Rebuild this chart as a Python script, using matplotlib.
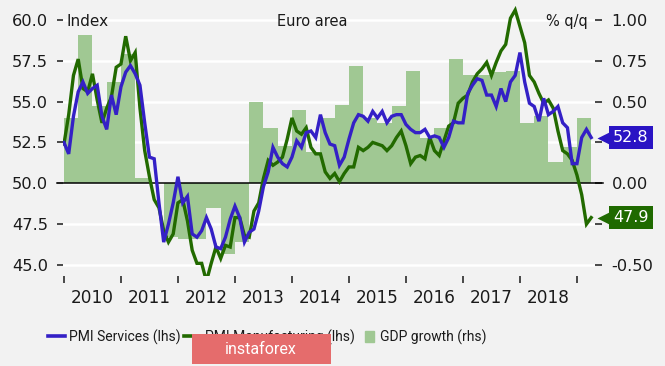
import numpy as np
import matplotlib
matplotlib.use("Agg")
import matplotlib.pyplot as plt
import matplotlib.transforms as mtransforms
from matplotlib.patches import Rectangle, Patch
from matplotlib.lines import Line2D
from matplotlib.legend_handler import HandlerPatch

# ---------------- data ----------------
years = ["2010", "2011", "2012", "2013", "2014", "2015", "2016", "2017", "2018"]

# monthly, Jan 2010 - Apr 2019
pmi_services = [
    52.5, 51.8, 54.1, 55.6, 56.2, 55.5, 55.8, 56.0, 54.1, 53.3, 55.4, 54.2,
    55.9, 56.8, 57.2, 56.7, 56.0, 53.7, 51.6, 51.5, 48.8, 46.4, 47.5, 48.8,
    50.4, 48.8, 49.2, 46.9, 46.7, 47.1, 47.9, 47.2, 46.1, 46.0, 46.7, 47.8,
    48.6, 47.9, 46.4, 47.0, 47.2, 48.3, 49.8, 50.7, 52.2, 51.6, 51.2, 51.0,
    51.6, 52.6, 52.2, 53.1, 53.2, 52.8, 54.2, 53.1, 52.4, 52.3, 51.1, 51.6,
    52.7, 53.7, 54.2, 54.1, 53.8, 54.4, 54.0, 54.4, 53.7, 54.1, 54.2, 54.2,
    53.6, 53.3, 53.1, 53.1, 53.3, 52.8, 52.9, 52.8, 52.2, 52.8, 53.8, 53.7,
    53.7, 55.5, 56.0, 56.4, 56.3, 55.4, 55.4, 54.7, 55.8, 55.0, 56.2, 56.6,
    58.0, 56.2, 54.9, 54.7, 53.8, 55.2, 54.2, 54.4, 54.7, 53.7, 53.4, 51.2,
    51.2, 52.8, 53.3, 52.8,
]
pmi_manufacturing = [
    52.4, 54.2, 56.6, 57.6, 55.8, 55.6, 56.7, 55.1, 53.7, 54.6, 55.3, 57.1,
    57.3, 59.0, 57.5, 58.0, 54.6, 52.0, 50.4, 49.0, 48.5, 47.1, 46.4, 46.9,
    48.8, 49.0, 47.7, 45.9, 45.1, 45.1, 44.0, 45.1, 46.1, 45.4, 46.2, 46.1,
    47.9, 47.9, 46.8, 46.7, 48.3, 48.8, 50.3, 51.4, 51.1, 51.3, 51.6, 52.7,
    54.0, 53.2, 53.0, 53.4, 52.2, 51.8, 51.8, 50.7, 50.3, 50.6, 50.1, 50.6,
    51.0, 51.0, 52.2, 52.0, 52.2, 52.5, 52.4, 52.3, 52.0, 52.3, 52.8, 53.2,
    52.3, 51.2, 51.6, 51.7, 51.5, 52.8, 52.0, 51.7, 52.6, 53.5, 53.7, 54.9,
    55.2, 55.4, 56.2, 56.7, 57.0, 57.4, 56.6, 57.4, 58.1, 58.5, 60.1, 60.6,
    59.6, 58.6, 56.6, 56.2, 55.5, 54.9, 55.1, 54.6, 53.2, 52.0, 51.8, 51.4,
    50.5, 49.3, 47.5, 47.9,
]
# quarterly, Q1 2010 - Q1 2019, % q/q
gdp_growth = [
    0.40, 0.91, 0.47, 0.62,
    0.79, 0.03, 0.00, -0.33,
    -0.34, -0.34, -0.15, -0.43,
    -0.36, 0.50, 0.34, 0.23,
    0.45, 0.19, 0.40, 0.48,
    0.72, 0.40, 0.37, 0.47,
    0.69, 0.28, 0.34, 0.76,
    0.66, 0.66, 0.68, 0.69,
    0.37, 0.41, 0.13, 0.22,
    0.40,
]
left_ticks = [45.0, 47.5, 50.0, 52.5, 55.0, 57.5, 60.0]
right_ticks = [-0.50, -0.25, 0.00, 0.25, 0.50, 0.75, 1.00]
# right labels hidden behind the last-value tags in the reference
right_labels = ["-0.50", "", "0.00", "", "0.50", "0.75", "1.00"]
legend_labels = ["PMI Services (lhs)", "PMI Manufacturing (lhs)", "GDP growth (rhs)"]

# ---------------- style ----------------
BG = "#f2f2f2"
BLUE = "#3420c6"
BLUE_BOX = "#2a14c4"
GREEN = "#226a00"
GREEN_BOX = "#1f6a00"
BAR = "#a0c893"
TXT = "#1a1a1a"

W, H = 665, 366
fig = plt.figure(figsize=(W / 100, H / 100), dpi=100, facecolor=BG)

ax_l, ax_r, ax_t, ax_b = 63, 595, 6, 275.6
ax = fig.add_axes([ax_l / W, 1 - ax_b / H, (ax_r - ax_l) / W, (ax_b - ax_t) / H])
ax2 = ax.twinx()
ax.set_zorder(2)
ax.patch.set_visible(False)
ax2.set_zorder(1)
ax2.patch.set_visible(False)

ylo, yhi = 44.35, 60.85
ax.set_ylim(ylo, yhi)
ax2.set_ylim((ylo - 50) / 10, (yhi - 50) / 10)

months = np.arange(len(pmi_services))
ax.set_xlim(-0.2, 111.8)

# GDP bars (quarterly)
q_start = np.arange(len(gdp_growth)) * 3
ax2.bar(q_start, gdp_growth, width=3, align="edge", color=BAR, edgecolor="none", zorder=1)
ax2.set_axisbelow(True)
ax2.grid(axis="y", color="white", lw=1.8)
ax2.axhline(0, xmin=-0.011, xmax=1.015, color="black", lw=1.1, clip_on=False, zorder=3)

# PMI lines
ax.plot(months, pmi_manufacturing, color=GREEN, lw=2.4, solid_joinstyle="miter")
ax.plot(months, pmi_services, color=BLUE, lw=2.4, solid_joinstyle="miter")

for a in (ax, ax2):
    for s in a.spines.values():
        s.set_visible(False)

# y ticks
ax.set_yticks(left_ticks)
ax.set_yticklabels([f"{v:.1f}" for v in left_ticks])
ax.tick_params(axis="y", left=True, length=4.3, width=1.1, pad=6.5,
               labelsize=11.7, colors=TXT)
ax2.set_yticks(right_ticks)
ax2.set_yticklabels(right_labels)
ax2.tick_params(axis="y", right=True, length=5, width=1.1, pad=7,
                labelsize=11.7, colors=TXT)

# x ticks
ax.set_xticks(np.arange(0, 109, 12))
ax.set_xticks(np.arange(6, 103, 12), minor=True)
ax.set_xticklabels([], minor=False)
ax.set_xticklabels(years, minor=True)
ax.tick_params(axis="x", which="major", length=5, width=1.1, direction="out",
               colors=TXT, labelbottom=False)
ax.tick_params(axis="x", which="minor", length=0, pad=10, labelsize=12.2,
               colors=TXT)

# header texts
ax.text(0.0075, 0.9407, "Index", transform=ax.transAxes, ha="left", va="center",
        fontsize=11, color=TXT)
ax.text(0.468, 0.9407, "Euro area", transform=ax.transAxes, ha="center", va="center",
        fontsize=10.5, color=TXT)
ax.text(0.987, 0.9407, "% q/q", transform=ax.transAxes, ha="right", va="center",
        fontsize=10.5, color=TXT)

# last-value tags
trans = mtransforms.blended_transform_factory(ax.transAxes, ax.transData)
for val, boxcol in ((pmi_services[-1], BLUE_BOX),
                    (pmi_manufacturing[-1], GREEN_BOX)):
    ax.plot([1.015], [val], marker="<", ms=9, color=boxcol, mec="none",
            transform=trans, clip_on=False)
    ax.text(1.0677, val, f"{val:.1f}", transform=trans, ha="center", va="center",
            color="white", fontsize=11.5, clip_on=False,
            bbox=dict(boxstyle="square,pad=0.25", fc=boxcol, ec="none"))

# legend
def small_square(legend, orig_handle, xdescent, ydescent, width, height, fontsize):
    side = height * 1.05
    return Rectangle((width - side - xdescent, -ydescent + (height - side) / 2), side * 0.8, side)

handles = [Line2D([], [], color=BLUE, lw=2.6),
           Line2D([], [], color=GREEN, lw=2.6),
           Patch(color=BAR)]
fig.legend(handles, legend_labels, loc="center left",
           bbox_to_anchor=(48 / W, 1 - 337 / H), ncol=3, frameon=False,
           prop={"family": "Roboto", "size": 10}, handlelength=1.22,
           handletextpad=0.3, columnspacing=0.25, borderaxespad=0, borderpad=0,
           handler_map={Patch: HandlerPatch(patch_func=small_square)},
           labelcolor=TXT)

# watermark
fig.add_artist(Rectangle((192 / W, 1 - 364 / H), 139 / W, 30 / H,
                         transform=fig.transFigure, fc="#e56c6c", ec="none", zorder=10))
fig.text(261 / W, 1 - 349 / H, "instaforex", color="white", family="Roboto",
         fontsize=11.5, ha="center", va="center", zorder=11)

fig.savefig("out.png", dpi=100, facecolor=BG)
